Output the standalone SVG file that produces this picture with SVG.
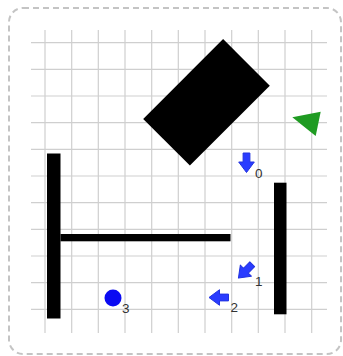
<svg xmlns="http://www.w3.org/2000/svg" width="343" height="356" viewBox="0 0 343 356">
<style>
.border{fill:#fff;stroke:#c4c4c4;stroke-width:2;stroke-dasharray:6 4}
.grid line{stroke:#cfcfcf;stroke-width:1.2}
.wall{fill:#000}
.wp{fill:#2a3cff;stroke:#2233e0;stroke-width:1;stroke-linejoin:round}
.lbl{font-family:"Liberation Sans",Arial,sans-serif;font-size:13.5px;fill:#333}
</style>
<defs>
<path id="arrow" d="M10,0 L-0.5,-7.8 L-0.5,-3.4 L-9.5,-3.4 L-9.5,3.4 L-0.5,3.4 L-0.5,7.8 Z"/>
</defs>
<rect class="border" x="9" y="8" width="332" height="346" rx="14"/>
<g id="grid" class="grid">
<line x1="45" y1="30" x2="45" y2="333"/>
<line x1="71.7" y1="30" x2="71.7" y2="333"/>
<line x1="98.3" y1="30" x2="98.3" y2="333"/>
<line x1="125" y1="30" x2="125" y2="333"/>
<line x1="151.7" y1="30" x2="151.7" y2="333"/>
<line x1="178.3" y1="30" x2="178.3" y2="333"/>
<line x1="205" y1="30" x2="205" y2="333"/>
<line x1="231.7" y1="30" x2="231.7" y2="333"/>
<line x1="258.3" y1="30" x2="258.3" y2="333"/>
<line x1="285" y1="30" x2="285" y2="333"/>
<line x1="311.7" y1="30" x2="311.7" y2="333"/>
<line x1="31" y1="42.7" x2="327" y2="42.7"/>
<line x1="31" y1="69.3" x2="327" y2="69.3"/>
<line x1="31" y1="96" x2="327" y2="96"/>
<line x1="31" y1="122.7" x2="327" y2="122.7"/>
<line x1="31" y1="149.3" x2="327" y2="149.3"/>
<line x1="31" y1="176" x2="327" y2="176"/>
<line x1="31" y1="202.7" x2="327" y2="202.7"/>
<line x1="31" y1="229.3" x2="327" y2="229.3"/>
<line x1="31" y1="256" x2="327" y2="256"/>
<line x1="31" y1="282.7" x2="327" y2="282.7"/>
<line x1="31" y1="309.3" x2="327" y2="309.3"/>
</g>
<g id="wall-left"><rect class="wall" x="47" y="153.5" width="13.5" height="165"/></g>
<g id="wall-middle"><rect class="wall" x="60.5" y="234" width="170" height="7.3"/></g>
<g id="wall-right"><rect class="wall" x="274" y="182.7" width="12.5" height="131.6"/></g>
<g id="box"><rect class="wall" x="-33" y="-56.5" width="66" height="113" transform="translate(206.5,102.3) rotate(45)"/></g>
<g id="robot"><polygon points="292.3,117.3 320.7,111.7 315.7,136" fill="#1f9b22"/></g>
<g id="waypoint-0">
<use href="#arrow" class="wp" transform="translate(246.5,162.5) rotate(90)"/>
<text class="lbl" x="255" y="178">0</text>
</g>
<g id="waypoint-1">
<use href="#arrow" class="wp" transform="translate(245.5,271) rotate(135)"/>
<text class="lbl" x="255" y="285.5">1</text>
</g>
<g id="waypoint-2">
<use href="#arrow" class="wp" transform="translate(219,297.5) rotate(180)"/>
<text class="lbl" x="230.5" y="312">2</text>
</g>
<g id="waypoint-3">
<circle cx="113" cy="298" r="8.5" fill="#0a0af2"/>
<text class="lbl" x="122" y="312.5">3</text>
</g>
<g id="connectors"/>
</svg>
